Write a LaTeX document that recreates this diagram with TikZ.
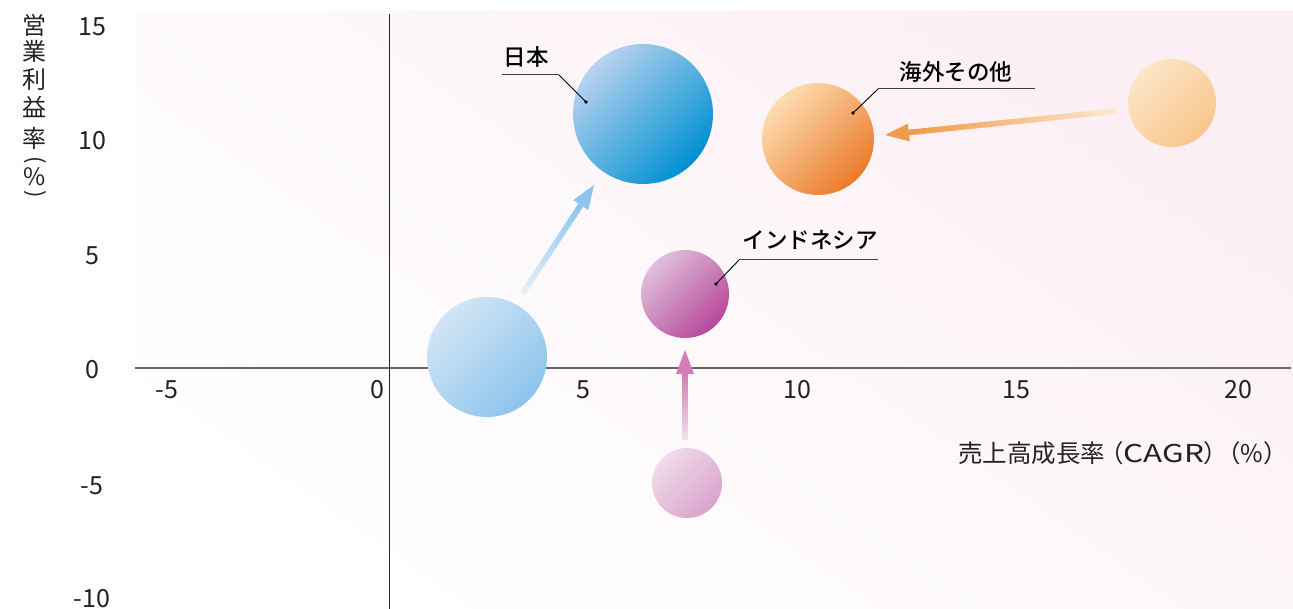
\documentclass[tikz,border=0pt]{standalone}
\usepackage{fontspec}
\setmainfont{Noto Sans CJK JP}
\newfontfamily\labelfont{Noto Sans CJK JP Medium}
\usetikzlibrary{calc}
\definecolor{bgpink}{HTML}{FCEFF4}
\definecolor{bgmid}{HTML}{FDF8FA}
\definecolor{jpA}{HTML}{B8D3EF}
\definecolor{jpB}{HTML}{0090D2}
\definecolor{joA}{HTML}{D2E5F6}
\definecolor{joB}{HTML}{8CC4EC}
\definecolor{osA}{HTML}{FCDDB2}
\definecolor{osB}{HTML}{EC7A2A}
\definecolor{ooA}{HTML}{FDE5C6}
\definecolor{ooB}{HTML}{F8C68C}
\definecolor{idA}{HTML}{DFC0DB}
\definecolor{idB}{HTML}{B7479A}
\definecolor{ioA}{HTML}{EEDCEC}
\definecolor{ioB}{HTML}{DCA3CA}
\definecolor{bhead}{HTML}{8CC6EC}
\definecolor{btail}{HTML}{E6F0FA}
\definecolor{ohead}{HTML}{F09A4A}
\definecolor{otail}{HTML}{FDE8CC}
\definecolor{phead}{HTML}{D27EB6}
\definecolor{ptail}{HTML}{F2DFEC}
\definecolor{txt}{HTML}{222222}
\newcommand\gradarrow[4]{%
  \coordinate (ga-base) at ($(#2)!24pt!(#1)$);
  \foreach \i in {0,...,39}{%
    \pgfmathsetmacro\gaa{\i/40}%
    \pgfmathsetmacro\gab{min(1,(\i+1.6)/40)}%
    \pgfmathtruncatemacro\gap{100*\i/39}%
    \draw[line width=5.5pt, color=#4!\gap!#3] ($(#1)!\gaa!(ga-base)$) -- ($(#1)!\gab!(ga-base)$);
  }%
  \fill[#4] (#2) -- ($(ga-base)!9pt!90:(#2)$) -- ($(ga-base)!9pt!-90:(#2)$) -- cycle;
}
\begin{document}
\begin{tikzpicture}[x=1pt,y=-1pt,
  tick/.style={font=\fontsize{25}{25}\selectfont, text=txt, inner sep=0pt},
  ytitle/.style={font=\fontsize{24}{24}\selectfont, text=txt, inner sep=0pt},
  bubble/.style={circle, inner sep=0pt},
  lbl/.style={font=\labelfont\fontsize{22.5}{22.5}\selectfont, text=black, inner sep=0pt},
  uline/.style={draw=black!75, line width=1pt},
  leader/.style={draw=black, line width=0.9pt},
  dot/.style={fill=black}]
\useasboundingbox (0,0) rectangle (1293,609);
\shade[top color=bgpink, bottom color=white, middle color=bgmid, shading angle=-35] (137,12) rectangle (1293,609);
% axes
\coordinate (xa0) at (135,368);
\coordinate (xa1) at (1291,368);
\coordinate (ya0) at (389,14);
\coordinate (ya1) at (389,609);
\draw[black!60, line width=1.4pt] (xa0) -- (xa1);
\draw[black!85, line width=1pt] (ya0) -- (ya1);
% ticks
\node[tick] (yt15) at (92,27) {15};
\node[tick] (yt10) at (92,141) {10};
\node[tick] (yt5) at (92,256) {5};
\node[tick] (yt0) at (92,370) {0};
\node[tick] (ytm5) at (92,486) {-5};
\node[tick] (ytm10) at (92,599) {-10};
\node[tick] (xtm5) at (167,390) {-5};
\node[tick] (xt0) at (377,390) {0};
\node[tick] (xt5) at (583,390) {5};
\node[tick] (xt10) at (797,390) {10};
\node[tick] (xt15) at (1016,390) {15};
\node[tick] (xt20) at (1238,390) {20};
% axis titles
\node[ytitle] (yc1) at (35,25) {営};
\node[ytitle] (yc2) at (35,51) {業};
\node[ytitle] (yc3) at (35,79) {利};
\node[ytitle] (yc4) at (35,107) {益};
\node[ytitle] (yc5) at (35,138) {率};
\node[ytitle, rotate=-90, font=\fontsize{22}{22}\selectfont] (yc6) at (35,160) {(};
\node[ytitle] (yc7) at (35,177) {\%};
\node[ytitle, rotate=-90, font=\fontsize{22}{22}\selectfont] (yc8) at (35,194) {)};
\node[ytitle, font=\fontsize{24.5}{24.5}\selectfont, anchor=west] (xtitle) at (958,453) {売上高成長率\kern-6pt（\scalebox{1.28}[1]{CAGR}）\kern-12pt（\%）};
% bubbles
\node[bubble, minimum size=140pt, top color=jpA, bottom color=jpB, shading angle=45] (jp) at (643,114) {};
\node[bubble, minimum size=120pt, top color=joA, bottom color=joB, shading angle=45] (jpold) at (487,357) {};
\node[bubble, minimum size=112pt, top color=osA, bottom color=osB, shading angle=45] (os) at (818,139) {};
\node[bubble, minimum size=88pt, top color=ooA, bottom color=ooB, shading angle=45] (osold) at (1172,103) {};
\node[bubble, minimum size=88pt, top color=idA, bottom color=idB, shading angle=45] (id) at (685,294) {};
\node[bubble, minimum size=70pt, top color=ioA, bottom color=ioB, shading angle=45] (idold) at (687,483) {};
% arrows
\coordinate (ba0) at (523,293);
\coordinate (ba1) at (594,185);
\gradarrow{ba0}{ba1}{btail}{bhead}
\coordinate (oa0) at (1117,111);
\coordinate (oa1) at (885,135);
\gradarrow{oa0}{oa1}{otail}{ohead}
\coordinate (pa0) at (685,440);
\coordinate (pa1) at (685,350);
\gradarrow{pa0}{pa1}{ptail}{phead}
% labels
\node[lbl] (ljp) at (526,57) {日本};
\coordinate (ljp0) at (502,75);
\coordinate (ljp1) at (559,75);
\coordinate (ljpd) at (586,102);
\draw[uline] (ljp0) -- (ljp1);
\draw[leader] (ljp1) -- (ljpd);
\fill[dot] (ljpd) circle[radius=1.8pt];
\node[lbl] (los) at (956,72) {海外その他};
\coordinate (los0) at (1035,89);
\coordinate (los1) at (878,89);
\coordinate (losd) at (853,113);
\draw[uline] (los0) -- (los1);
\draw[leader] (los1) -- (losd);
\fill[dot] (losd) circle[radius=1.8pt];
\node[lbl] (lid) at (810,240) {インドネシア};
\coordinate (lid0) at (878,260);
\coordinate (lid1) at (739,260);
\coordinate (lidd) at (716,284);
\draw[uline] (lid0) -- (lid1);
\draw[leader] (lid1) -- (lidd);
\fill[dot] (lidd) circle[radius=1.8pt];
\end{tikzpicture}
\end{document}
